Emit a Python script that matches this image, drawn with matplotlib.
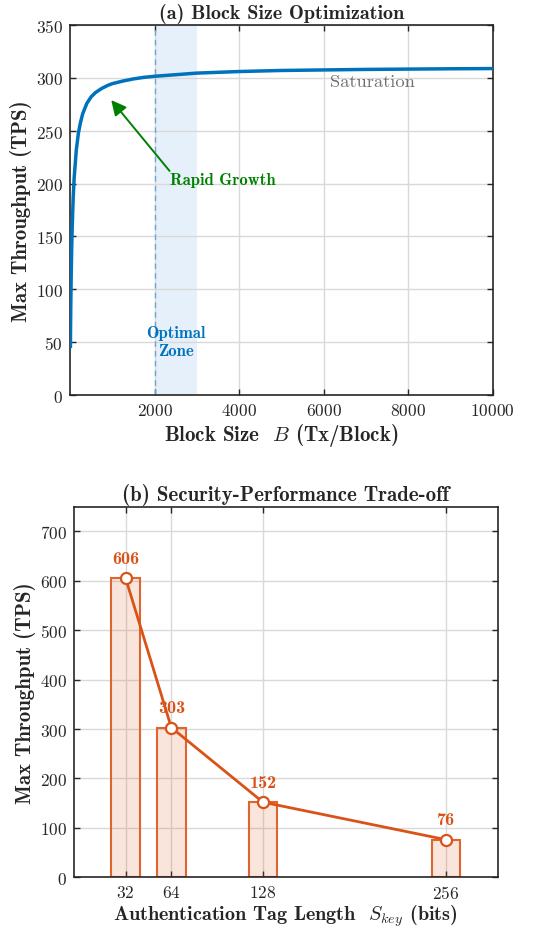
import matplotlib
matplotlib.use("Agg")
import matplotlib.pyplot as plt

plt.rcParams['font.family'] = ['cmr10', 'DejaVu Serif']
plt.rcParams['mathtext.fontset'] = 'cm'
plt.rcParams['axes.formatter.use_mathtext'] = True

# (a) block size vs throughput
block_size = [10, 15, 20, 30, 40, 50, 75, 100, 150, 200, 250, 300, 400, 500,
              600, 750, 900, 1000, 1250, 1500, 1750, 2000, 2500, 3000, 4000,
              5000, 6000, 7000, 8000, 9000, 10000]
throughput = [46, 70, 88, 116, 138, 155, 186, 206, 232, 248, 258, 266, 276, 282,
              286, 290, 293, 294.5, 297, 299, 300.5, 301.5, 303, 304.5, 306,
              307, 307.5, 308, 308.3, 308.6, 308.8]
optimal_zone = [2000, 3000]

# (b) tag length vs throughput
tag_bits = [32, 64, 128, 256]
tag_tps = [606, 303, 152, 76]

blue = '#0072BD'
orange = '#D95319'
green = '#008000'
dark = '#262626'
grid_c = '#D9D9D9'

fig = plt.figure(figsize=(5.33, 9.29), dpi=100)
ax1 = fig.add_axes([0.1313, 0.5737, 0.7930, 0.3983])
ax2 = fig.add_axes([0.1388, 0.0546, 0.7950, 0.3989])


def style(ax):
    for s in ax.spines.values():
        s.set_color(dark)
        s.set_linewidth(1.2)
    ax.tick_params(direction='in', length=4, width=1, colors=dark,
                   top=True, right=True, labelsize=12.5, pad=5)
    ax.grid(True, color=grid_c, linewidth=1)
    ax.set_axisbelow(True)


# ---- panel (a)
style(ax1)
ax1.axvspan(optimal_zone[0], optimal_zone[1], color='#E6F0FA', zorder=0.5, lw=0)
ax1.axvline(optimal_zone[0], color='#6AA8D8', lw=1, ls=(0, (4, 3)), zorder=1)
ax1.plot(block_size, throughput, color=blue, lw=2.5, zorder=3)
ax1.set_xlim(0, 10000)
ax1.set_ylim(0, 350)
ax1.set_xticks([2000, 4000, 6000, 8000, 10000])
ax1.set_yticks(range(0, 351, 50))

ax1.text(7150, 297, 'Saturation', color='#707070', fontsize=13.3,
         ha='center', va='center')
ax1.annotate('', xy=(976, 279), xytext=(2355, 212),
             arrowprops=dict(arrowstyle='-|>,head_length=0.9,head_width=0.45',
                             color=green, lw=1.4, shrinkA=0, shrinkB=0))
ax1.text(3620, 204, 'Rapid Growth', color=green, fontsize=12,
         family='cmb10', ha='center', va='center')
ax1.text(2500, 51, 'Optimal\nZone', color=blue, fontsize=12,
         family='cmb10', ha='center', va='center', linespacing=1.25)

ax1.set_title('(a) Block Size Optimization', family='cmb10', fontsize=14.5,
              color=dark, pad=5)
ax1.set_xlabel(r'Block Size  $B$ (Tx/Block)', family='cmb10', fontsize=15,
               color=dark, labelpad=2)
ax1.set_ylabel('Max Throughput (TPS)', family='cmb10', fontsize=15,
               color=dark, labelpad=3)

# ---- panel (b)
style(ax2)
ax2.bar(tag_bits, tag_tps, width=20, facecolor=(0.851, 0.325, 0.098, 0.15),
        edgecolor='#E0642E', linewidth=1.5, zorder=2)
ax2.plot(tag_bits, tag_tps, color=orange, lw=2, marker='o', markersize=8,
         markerfacecolor='white', markeredgecolor=orange, markeredgewidth=1.6,
         zorder=3)
for b, v in zip(tag_bits, tag_tps):
    ax2.text(b, v + 40, str(v), color=orange, family='cmb10', fontsize=13,
             ha='center', va='center')
ax2.set_xlim(-4, 292)
ax2.set_ylim(0, 750)
ax2.set_xticks(tag_bits)
ax2.set_yticks(range(0, 701, 100))

ax2.set_title('(b) Security-Performance Trade-off', family='cmb10',
              fontsize=15, color=dark, pad=5)
ax2.set_xlabel(r'Authentication Tag Length  $S_{key}$ (bits)', family='cmb10',
               fontsize=14.5, color=dark, labelpad=0.5)
ax2.set_ylabel('Max Throughput (TPS)', family='cmb10', fontsize=15,
               color=dark, labelpad=3)

fig.savefig('out.png', dpi=100)
